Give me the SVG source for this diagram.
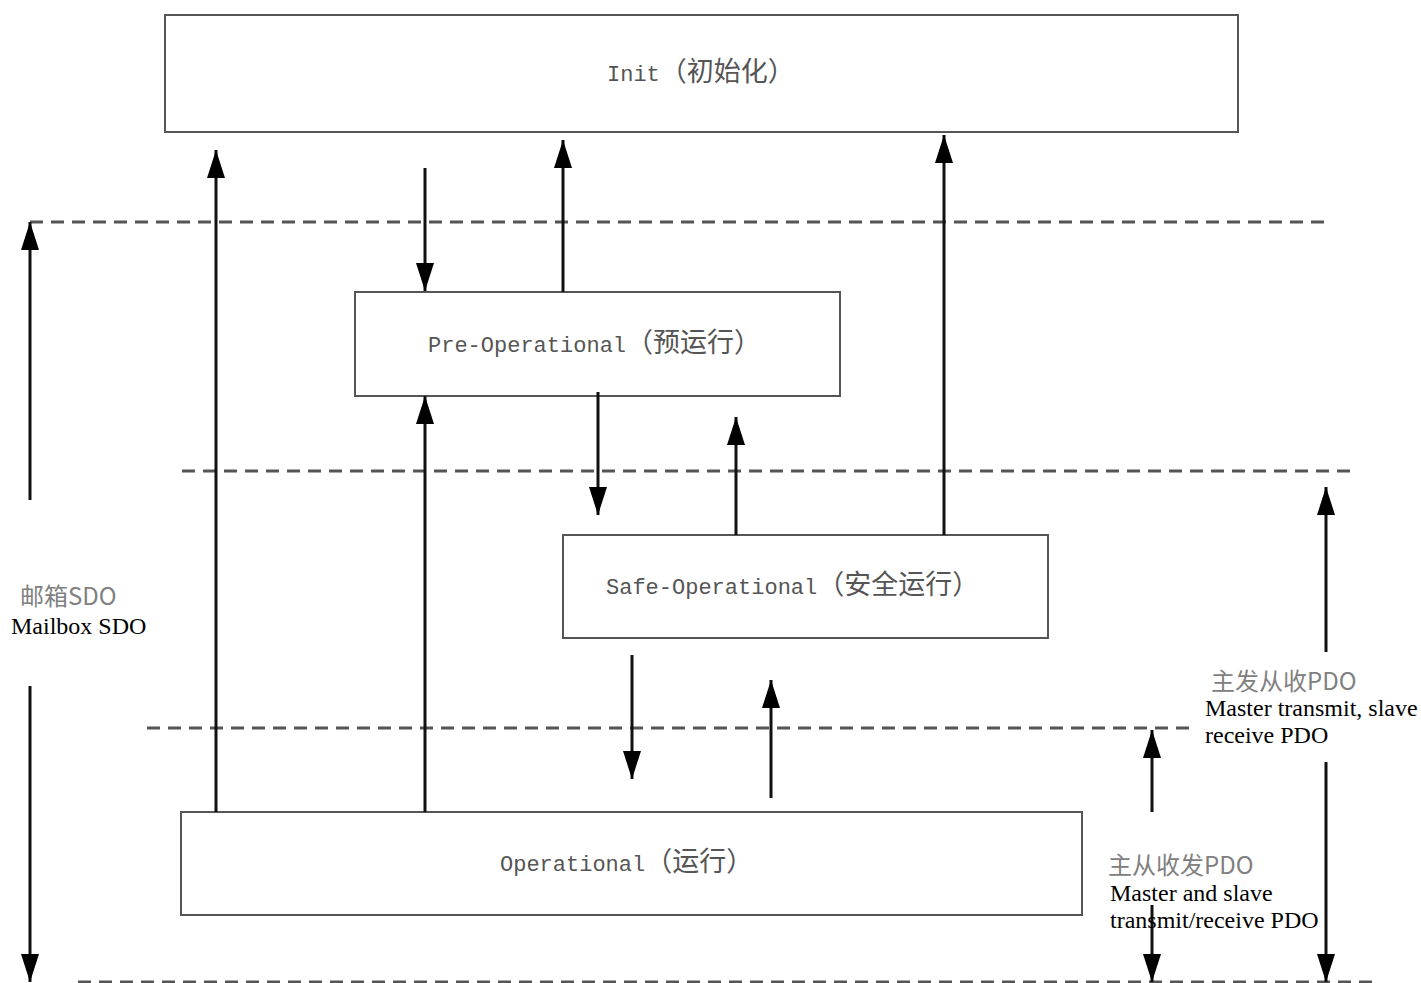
<svg xmlns="http://www.w3.org/2000/svg" width="1421" height="983" viewBox="0 0 1421 983">
  <defs>
    <marker id="arrow" markerUnits="userSpaceOnUse" markerWidth="30" markerHeight="20" refX="28" refY="9" orient="auto">
      <path d="M0,0 L28,9 L0,18 z" fill="#000"/>
    </marker>
    <style>
      .state { fill: #fff; stroke: #555; stroke-width: 2; }
      .zone { stroke: #555; stroke-width: 3; stroke-dasharray: 13 8; fill: none; }
      .flow { stroke: #111; stroke-width: 3; fill: none; marker-end: url(#arrow); }
      .lat { font-family: "Liberation Mono", monospace; font-size: 22px; }
      .cjk { font-family: "Noto Sans CJK SC", sans-serif; font-size: 27px; }
      .label { fill: #555; }
      .zh { font-family: "Noto Sans CJK SC", sans-serif; font-size: 24px; fill: #808080; }
      .en { font-family: "Liberation Serif", serif; font-size: 24px; fill: #000; }
    </style>
  </defs>

  <rect width="1421" height="983" fill="#fff"/>

  <!-- zone boundaries -->
  <g id="zones">
    <line class="zone" x1="30" y1="222" x2="1330" y2="222"/>
    <line class="zone" x1="182" y1="471" x2="1358" y2="471"/>
    <line class="zone" x1="147" y1="728" x2="1190" y2="728"/>
    <line class="zone" x1="78" y1="982" x2="1380" y2="982" stroke="#bbb"/>
  </g>

  <!-- state machine nodes -->
  <g id="init">
    <rect class="state" x="165" y="15" width="1073" height="117"/>
    <text class="label" x="607" y="81"><tspan class="lat">Init</tspan><tspan class="cjk">（初始化）</tspan></text>
  </g>
  <g id="preop">
    <rect class="state" x="355" y="292" width="485" height="104"/>
    <text class="label" x="428" y="352"><tspan class="lat">Pre-Operational</tspan><tspan class="cjk">（预运行）</tspan></text>
  </g>
  <g id="safeop">
    <rect class="state" x="563" y="535" width="485" height="103"/>
    <text class="label" x="606" y="594"><tspan class="lat">Safe-Operational</tspan><tspan class="cjk">（安全运行）</tspan></text>
  </g>
  <g id="op">
    <rect class="state" x="181" y="812" width="901" height="103"/>
    <text class="label" x="500" y="871"><tspan class="lat">Operational</tspan><tspan class="cjk">（运行）</tspan></text>
  </g>

  <!-- transitions and zone extents -->
  <g id="connectors">
    <line class="flow" x1="30" y1="500" x2="30" y2="222"/>
    <line class="flow" x1="30" y1="686" x2="30" y2="982"/>
    <line class="flow" x1="216" y1="812" x2="216" y2="150"/>
    <line class="flow" x1="425" y1="168" x2="425" y2="291"/>
    <line class="flow" x1="563" y1="292" x2="563" y2="140"/>
    <line class="flow" x1="944" y1="535" x2="944" y2="135"/>
    <line class="flow" x1="425" y1="812" x2="425" y2="396"/>
    <line class="flow" x1="598" y1="392" x2="598" y2="515"/>
    <line class="flow" x1="736" y1="535" x2="736" y2="417"/>
    <line class="flow" x1="632" y1="655" x2="632" y2="779"/>
    <line class="flow" x1="771" y1="798" x2="771" y2="680"/>
    <line class="flow" x1="1152" y1="812" x2="1152" y2="730"/>
    <line class="flow" x1="1152" y1="905" x2="1152" y2="982"/>
    <line class="flow" x1="1326" y1="652" x2="1326" y2="487"/>
    <line class="flow" x1="1326" y1="762" x2="1326" y2="982"/>
  </g>

  <!-- zone labels -->
  <g id="mailbox-label">
    <text class="zh" x="20" y="605">邮箱SDO</text>
    <text class="en" x="11" y="634">Mailbox SDO</text>
  </g>
  <g id="mtsr-label">
    <text class="zh" x="1211" y="690">主发从收PDO</text>
    <text class="en" x="1205" y="716">Master transmit, slave</text>
    <text class="en" x="1205" y="743">receive PDO</text>
  </g>
  <g id="msr-label">
    <text class="zh" x="1108" y="874">主从收发PDO</text>
    <text class="en" x="1110" y="901">Master and slave</text>
    <text class="en" x="1110" y="928">transmit/receive PDO</text>
  </g>
</svg>
